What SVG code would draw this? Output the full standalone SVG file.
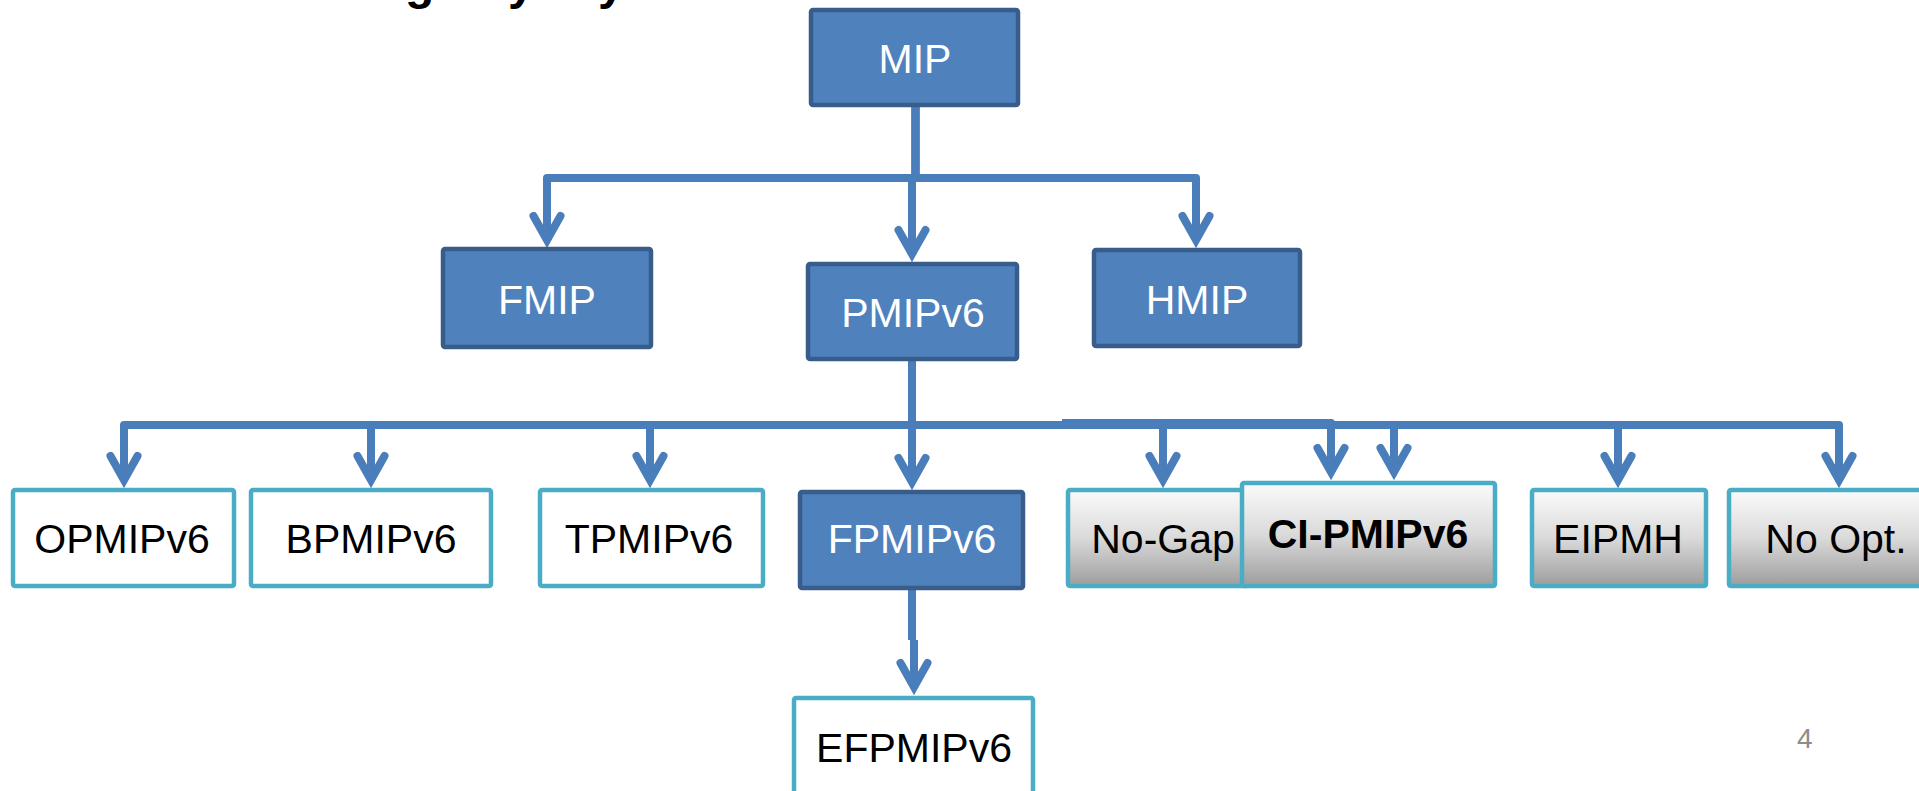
<svg xmlns="http://www.w3.org/2000/svg" width="1919" height="791" viewBox="0 0 1919 791">
  <defs>
    <linearGradient id="greyFill" x1="0" y1="0" x2="0" y2="1">
      <stop offset="0" stop-color="#fbfbfb"/>
      <stop offset="0.5" stop-color="#dadada"/>
      <stop offset="1" stop-color="#9d9d9d"/>
    </linearGradient>
    <!-- open V arrowhead, drawn along +x and turned with the line -->
    <marker id="arrow" markerUnits="userSpaceOnUse" orient="auto" refX="0" refY="0" overflow="visible">
      <path d="M -24 -13.5 L 0 0 L -24 13.5" fill="none" stroke="#4a7ebb" stroke-width="8" stroke-linecap="round" stroke-linejoin="miter" stroke-miterlimit="10"/>
    </marker>
    <style>
      .dark rect { fill: #4f81bd; stroke: #385d8a; stroke-width: 4.5; }
      .plain rect { fill: #ffffff; stroke: #4bacc6; stroke-width: 4.5; }
      .grey rect { fill: url(#greyFill); stroke: #4bacc6; stroke-width: 4.5; }
      text { font-family: "Liberation Sans", Arial, sans-serif; font-size: 41px; text-anchor: middle; }
      .dark text { fill: #ffffff; }
      .plain text, .grey text { fill: #000000; }
      .conn path { fill: none; stroke: #4a7ebb; stroke-width: 8; stroke-linejoin: round; }
      .conn path.arr { marker-end: url(#arrow); }
      .title { font-weight: bold; font-size: 48px; text-anchor: start; fill: #000000; }
      .pagenum { font-size: 28px; fill: #8c8c8c; text-anchor: start; }
    </style>
  </defs>

  <rect x="0" y="0" width="1919" height="791" fill="#ffffff"/>

  <!-- heading, mostly above the top edge -->
  <g id="title">
    <text class="title" x="405 508 598" y="-1">gyy</text>
  </g>

  <!-- connectors -->
  <g id="connectors" class="conn">
    <path class="arr" d="M915.5 107 V178 H547 V240"/>
    <path class="arr" d="M915.5 107 V178 H1196 V240"/>
    <path class="arr" d="M915.5 107 V182 M912 182 V254"/>

    <path class="arr" d="M912 361 V425 H124 V480"/>
    <path class="arr" d="M912 361 V425 H371 V480"/>
    <path class="arr" d="M912 361 V425 H650 V480"/>
    <path class="arr" d="M912 361 V482"/>
    <path class="arr" d="M912 361 V425 H1163 V480"/>
    <path class="arr" d="M1062 423 H1331 V472"/>
    <path class="arr" d="M912 361 V425 H1394 V472"/>
    <path class="arr" d="M912 361 V425 H1618 V480"/>
    <path class="arr" d="M912 361 V425 H1839 V480"/>

    <path class="arr" d="M912 590 V640 M914 640 V687"/>
  </g>

  <!-- level 1 -->
  <g id="mip" class="dark">
    <rect x="811" y="10" width="207" height="95" rx="2"/>
    <text x="915" y="73">MIP</text>
  </g>

  <!-- level 2 -->
  <g id="fmip" class="dark">
    <rect x="443" y="249" width="208" height="98" rx="2"/>
    <text x="547" y="314">FMIP</text>
  </g>
  <g id="pmipv6" class="dark">
    <rect x="808" y="264" width="209" height="95" rx="2"/>
    <text x="913" y="327">PMIPv6</text>
  </g>
  <g id="hmip" class="dark">
    <rect x="1094" y="250" width="206" height="96" rx="2"/>
    <text x="1197" y="314">HMIP</text>
  </g>

  <!-- level 3 -->
  <g id="opmipv6" class="plain">
    <rect x="13" y="490" width="221" height="96" rx="2"/>
    <text x="122" y="553">OPMIPv6</text>
  </g>
  <g id="bpmipv6" class="plain">
    <rect x="251" y="490" width="240" height="96" rx="2"/>
    <text x="371" y="553">BPMIPv6</text>
  </g>
  <g id="tpmipv6" class="plain">
    <rect x="540" y="490" width="223" height="96" rx="2"/>
    <text x="649" y="553">TPMIPv6</text>
  </g>
  <g id="fpmipv6" class="dark">
    <rect x="800" y="492" width="223" height="96" rx="2"/>
    <text x="912" y="553">FPMIPv6</text>
  </g>
  <g id="nogap" class="grey">
    <rect x="1068" y="490" width="180" height="96" rx="2"/>
    <text x="1163" y="553">No-Gap</text>
  </g>
  <g id="cipmipv6" class="grey">
    <rect x="1242" y="483" width="253" height="103" rx="2"/>
    <text x="1368" y="548" font-weight="bold">CI-PMIPv6</text>
  </g>
  <g id="eipmh" class="grey">
    <rect x="1532" y="490" width="174" height="96" rx="2"/>
    <text x="1618" y="553">EIPMH</text>
  </g>
  <g id="noopt" class="grey">
    <rect x="1729" y="490" width="220" height="96" rx="2"/>
    <text x="1836" y="553">No Opt.</text>
  </g>

  <!-- level 4 -->
  <g id="efpmipv6" class="plain">
    <rect x="794" y="698" width="239" height="120" rx="2"/>
    <text x="914" y="762">EFPMIPv6</text>
  </g>

  <text class="pagenum" x="1797" y="748">4</text>
</svg>
